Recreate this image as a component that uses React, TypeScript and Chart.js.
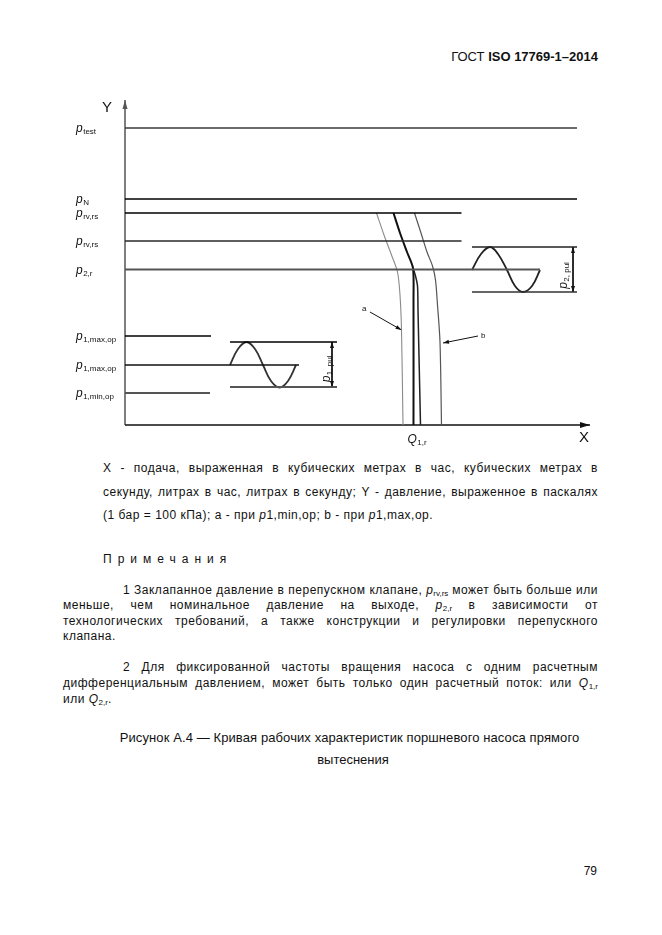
import React, { useEffect, useRef } from 'react';
import { Chart, registerables } from 'chart.js';
Chart.register(...registerables);

// axis extents (flow units / pressure units)
const X_MAX = 93;
const Y_MAX = 65;

// pressure levels
const LEVEL_LABELS = ['test', 'N', 'rv,rs', 'rv,rs', '2,r', '1,max,op', '1,max,op', '1,min,op'];
const LEVEL_VALUES = [59.4, 45.2, 42.4, 36.8, 31.1, 17.8, 12.0, 6.4];
const LEVEL_ENDS = [90.4, 90.4, 67.3, 67.3, 83.0, 17.2, 34.8, 17.0];

// outlet pulsation
const P2_BAND = [35.6, 26.6];
const P2_BAND_X = [69.4, 90.4];
const P2_WAVE_X = [69.4, 71.2, 73.0, 74.6, 76.4, 78.0, 79.6, 81.4, 83.0];
const P2_WAVE_Y = [31.0, 34.2, 35.6, 34.2, 31.0, 27.8, 26.6, 27.8, 31.0];
const P2_DIM_X = 89.6;

// inlet pulsation
const P1_BAND = [16.6, 7.6];
const P1_BAND_X = [21.0, 42.4];
const P1_WAVE_X = [21.0, 22.6, 24.3, 26.0, 27.6, 29.2, 30.9, 32.6, 34.2];
const P1_WAVE_Y = [12.0, 15.2, 16.6, 15.2, 12.0, 8.8, 7.5, 8.8, 12.0];
const P1_DIM_X = 41.4;

// characteristic curves
const CURVE_A_X = [50.3, 51.8, 53.3, 54.5, 55.0, 55.3, 55.6];
const CURVE_A_Y = [42.4, 38.0, 34.0, 30.6, 26.0, 19.0, 0];
const CURVE_MAIN_X = [53.7, 55.0, 56.4, 57.6, 57.7, 57.7];
const CURVE_MAIN_Y = [42.4, 38.4, 34.6, 31.4, 25.0, 0];
const CURVE_BRANCH_X = [57.6, 58.1, 58.5, 58.6, 59.1];
const CURVE_BRANCH_Y = [31.4, 29.8, 27.8, 23.0, 0];
const CURVE_B_X = [57.9, 59.2, 60.4, 61.5, 62.1, 62.5, 63.0, 63.3];
const CURVE_B_Y = [42.4, 38.4, 34.6, 31.8, 29.0, 24.0, 16.6, 0];

// callouts
const ARROW_A_X = [49.0, 55.3];
const ARROW_A_Y = [22.6, 19.0];
const ARROW_B_X = [70.6, 63.6];
const ARROW_B_Y = [17.8, 16.4];
const Q1R_X = 58.4;

const FONT = '"Liberation Sans", Arial, sans-serif';

const pts = (xs: number[], ys: number[]) => xs.map((x, i) => ({ x, y: ys[i] }));
const ln = (data: any[], color: string, width: number, extra: any = {}) => ({
  data,
  borderColor: color,
  backgroundColor: color,
  borderWidth: width,
  showLine: true,
  pointRadius: 0,
  fill: false,
  tension: 0,
  clip: false,
  ...extra,
});

const LEVEL_COLORS = ['#3a3a3a', '#000', '#000', '#2a2a2a', '#555', '#000', '#111', '#555'];
const LEVEL_WIDTHS = [1.5, 1.3, 1.3, 1.3, 2, 1.3, 1.3, 1.8];

function head(ctx: CanvasRenderingContext2D, fx: number, fy: number, tx: number, ty: number, len: number, half: number, color: string) {
  const ang = Math.atan2(ty - fy, tx - fx);
  ctx.save();
  ctx.fillStyle = color;
  ctx.translate(tx, ty);
  ctx.rotate(ang);
  ctx.beginPath();
  ctx.moveTo(0, 0);
  ctx.lineTo(-len, half);
  ctx.lineTo(-len, -half);
  ctx.closePath();
  ctx.fill();
  ctx.restore();
}

const arrowPlugin = {
  id: 'arrows',
  afterDatasetsDraw(chart: any) {
    const ctx = chart.ctx;
    chart.data.datasets.forEach((ds: any, i: number) => {
      if (!ds.arrow) return;
      const el = chart.getDatasetMeta(i).data;
      const n = el.length;
      const len = ds.arrowLen || 6;
      const half = ds.arrowHalf || 2;
      head(ctx, el[n - 2].x, el[n - 2].y, el[n - 1].x, el[n - 1].y, len, half, ds.borderColor);
      if (ds.arrow === 'both') head(ctx, el[1].x, el[1].y, el[0].x, el[0].y, len, half, ds.borderColor);
    });
  },
};

function sub(ctx: CanvasRenderingContext2D, main: string, s: string, x: number, y: number, size = 12, subSize = 8) {
  ctx.font = `italic ${size}px ${FONT}`;
  ctx.fillText(main, x, y);
  const w = ctx.measureText(main).width;
  ctx.font = `${subSize}px ${FONT}`;
  ctx.fillText(s, x + w + 0.5, y + 2);
  return w + 0.5 + ctx.measureText(s).width;
}

function subWidth(ctx: CanvasRenderingContext2D, main: string, s: string, size = 12, subSize = 8) {
  ctx.font = `italic ${size}px ${FONT}`;
  const w = ctx.measureText(main).width;
  ctx.font = `${subSize}px ${FONT}`;
  return w + 0.5 + ctx.measureText(s).width;
}

const labelPlugin = {
  id: 'labels',
  afterDraw(chart: any) {
    const ctx: CanvasRenderingContext2D = chart.ctx;
    const { x, y } = chart.scales;
    ctx.save();
    ctx.fillStyle = '#111';
    ctx.textBaseline = 'alphabetic';
    ctx.textAlign = 'left';
    const lx = x.left - 49;
    LEVEL_VALUES.forEach((v, i) => {
      sub(ctx, 'p', LEVEL_LABELS[i], lx, y.getPixelForValue(v) + 4);
    });
    // axis names
    ctx.font = `15px ${FONT}`;
    ctx.fillText('Y', x.left - 23, y.top + 12);
    ctx.fillText('X', x.right - 11, y.bottom + 17);
    // Q1,r
    const qw = subWidth(ctx, 'Q', '1,r');
    ctx.fillStyle = '#111';
    sub(ctx, 'Q', '1,r', x.getPixelForValue(Q1R_X) - qw / 2, y.bottom + 18);
    // callout letters
    ctx.font = `8px ${FONT}`;
    ctx.fillText('a', x.getPixelForValue(ARROW_A_X[0]) - 8, y.getPixelForValue(ARROW_A_Y[0]) - 1);
    ctx.fillText('b', x.getPixelForValue(ARROW_B_X[0]) + 3, y.getPixelForValue(ARROW_B_Y[0]) + 2);
    // rotated pulsation labels
    const rot = (txt: string, s: string, cx: number, cy: number) => {
      ctx.save();
      ctx.translate(cx, cy);
      ctx.rotate(-Math.PI / 2);
      const w = subWidth(ctx, txt, s);
      sub(ctx, txt, s, -w / 2, 0);
      ctx.restore();
    };
    rot('p', '2, pul', x.getPixelForValue(P2_DIM_X) - 6, y.getPixelForValue((P2_BAND[0] + P2_BAND[1]) / 2) + 6);
    rot('p', '1, pul', x.getPixelForValue(P1_DIM_X) - 2.5, y.getPixelForValue((P1_BAND[0] + P1_BAND[1]) / 2) + 4.5);
    ctx.restore();
  },
};

function buildDatasets() {
  const ds: any[] = [];
  LEVEL_VALUES.forEach((v, i) => {
    ds.push(ln([{ x: 0, y: v }, { x: LEVEL_ENDS[i], y: v }], LEVEL_COLORS[i], LEVEL_WIDTHS[i]));
  });
  ds.push(ln([{ x: P2_BAND_X[0], y: P2_BAND[0] }, { x: P2_BAND_X[1], y: P2_BAND[0] }], '#222', 1.3));
  ds.push(ln([{ x: P2_BAND_X[0], y: P2_BAND[1] }, { x: P2_BAND_X[1], y: P2_BAND[1] }], '#333', 1.4));
  ds.push(ln(pts(P2_WAVE_X, P2_WAVE_Y), '#222', 1.8, { tension: 0.4 }));
  ds.push(ln([{ x: P2_DIM_X, y: P2_BAND[0] }, { x: P2_DIM_X, y: P2_BAND[1] }], '#111', 1, { arrow: 'both' }));
  ds.push(ln([{ x: P1_BAND_X[0], y: P1_BAND[0] }, { x: P1_BAND_X[1], y: P1_BAND[0] }], '#000', 1.3));
  ds.push(ln([{ x: P1_BAND_X[0], y: P1_BAND[1] }, { x: P1_BAND_X[1], y: P1_BAND[1] }], '#555', 1.8));
  ds.push(ln(pts(P1_WAVE_X, P1_WAVE_Y), '#333', 1.8, { tension: 0.4 }));
  ds.push(ln([{ x: P1_DIM_X, y: P1_BAND[0] }, { x: P1_DIM_X, y: P1_BAND[1] }], '#111', 1, { arrow: 'both' }));
  ds.push(ln(pts(CURVE_A_X, CURVE_A_Y), '#8a8a8a', 1.1, { tension: 0.3 }));
  ds.push(ln(pts(CURVE_MAIN_X, CURVE_MAIN_Y), '#111', 2, { tension: 0.25 }));
  ds.push(ln(pts(CURVE_BRANCH_X, CURVE_BRANCH_Y), '#222', 1.5, { tension: 0.3 }));
  ds.push(ln(pts(CURVE_B_X, CURVE_B_Y), '#555', 1.2, { tension: 0.3 }));
  ds.push(ln(pts(ARROW_A_X, ARROW_A_Y), '#111', 1, { arrow: 'end' }));
  ds.push(ln(pts(ARROW_B_X, ARROW_B_Y), '#111', 1, { arrow: 'end' }));
  // axes
  ds.push(ln([{ x: 0, y: 0 }, { x: X_MAX, y: 0 }], '#111', 1.5, { arrow: 'end', arrowLen: 10, arrowHalf: 3 }));
  ds.push(ln([{ x: 0, y: 0 }, { x: 0, y: Y_MAX }], '#555', 1.5, { arrow: 'end', arrowLen: 9, arrowHalf: 2.5 }));
  return ds;
}

const lineStyle = (left: number, top: number, width: number, justify: boolean, extra: any = {}) => ({
  position: 'absolute' as const,
  left,
  top,
  width,
  fontSize: 12,
  lineHeight: '14px',
  letterSpacing: '0.5px',
  textAlign: (justify ? 'justify' : 'left') as any,
  textAlignLast: (justify ? 'justify' : 'auto') as any,
  ...extra,
});

const Sub = ({ children }: any) => (
  <span style={{ fontSize: 8, position: 'relative', top: 2, letterSpacing: 0 }}>{children}</span>
);

export default function App() {
  const ref = useRef<HTMLCanvasElement>(null);
  useEffect(() => {
    const chart = new Chart(ref.current as HTMLCanvasElement, {
      type: 'scatter',
      data: { datasets: buildDatasets() },
      options: {
        animation: false,
        responsive: false,
        events: [],
        layout: { padding: { left: 75, right: 20, top: 15, bottom: 30 } },
        plugins: { legend: { display: false }, tooltip: { enabled: false } },
        scales: {
          x: { type: 'linear', min: 0, max: X_MAX, display: false },
          y: { type: 'linear', min: 0, max: Y_MAX, display: false },
        },
      } as any,
      plugins: [arrowPlugin, labelPlugin],
    });
    return () => chart.destroy();
  }, []);

  return (
    <div style={{ position: 'relative', width: 646, height: 919, fontFamily: FONT, color: '#111' }}>
      <div style={{ position: 'absolute', left: 0, top: 41, width: 590, textAlign: 'right', fontSize: 13, lineHeight: '15px' }}>
        ГОСТ <b>ISO 17769-1–2014</b>
      </div>
      <canvas ref={ref} width={560} height={370} style={{ position: 'absolute', left: 42, top: 77, display: 'block' }} />
      <div style={lineStyle(95, 453, 495, true)}>X - подача, выраженная в кубических метрах в час, кубических метрах в</div>
      <div style={lineStyle(95, 477, 495, true)}>секунду, литрах в час, литрах в секунду; Y - давление, выраженное в паскалях</div>
      <div style={lineStyle(95, 500, 495, false)}>
        (1 бар = 100 кПа); a - при <i>p</i>1,min,op; b - при <i>p</i>1,max,op.
      </div>
      <div style={lineStyle(95, 544, 300, false, { letterSpacing: 6 })}>Примечания</div>
      <div style={lineStyle(115, 575, 475, true)}>
        1 Заклапанное давление в перепускном клапане, <i>p</i><Sub>rv,rs</Sub> может быть больше или
      </div>
      <div style={lineStyle(55, 590, 535, true)}>
        меньше, чем номинальное давление на выходе, <i>p</i><Sub>2,r</Sub> в зависимости от
      </div>
      <div style={lineStyle(55, 606, 535, true)}>технологических требований, а также конструкции и регулировки перепускного</div>
      <div style={lineStyle(55, 621, 535, false)}>клапана.</div>
      <div style={lineStyle(115, 652, 475, true)}>2 Для фиксированной частоты вращения насоса с одним расчетным</div>
      <div style={lineStyle(55, 668, 535, true)}>
        дифференциальным давлением, может быть только один расчетный поток: или <i>Q</i><Sub>1,r</Sub>
      </div>
      <div style={lineStyle(55, 684, 535, false)}>
        или <i>Q</i><Sub>2,r</Sub>.
      </div>
      <div style={{ position: 'absolute', left: 100, top: 722, width: 483, textAlign: 'center', fontSize: 13, lineHeight: '15px', letterSpacing: '0.1px' }}>
        Рисунок А.4 — Кривая рабочих характеристик поршневого насоса прямого
      </div>
      <div style={{ position: 'absolute', left: 100, top: 744, width: 490, textAlign: 'center', fontSize: 13, lineHeight: '15px' }}>
        вытеснения
      </div>
      <div style={{ position: 'absolute', left: 0, top: 856, width: 589, textAlign: 'right', fontSize: 12, lineHeight: '14px' }}>79</div>
    </div>
  );
}
